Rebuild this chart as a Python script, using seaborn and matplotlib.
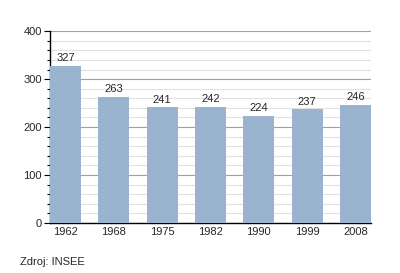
import matplotlib
matplotlib.use("Agg")
import matplotlib.pyplot as plt
import seaborn as sns
import pandas as pd
from matplotlib.ticker import MultipleLocator

years = ["1962", "1968", "1975", "1982", "1990", "1999", "2008"]
population = [327, 263, 241, 242, 224, 237, 246]
source_text = "Zdroj: INSEE"

sns.set_style("white")
plt.rcParams['font.family'] = ['Liberation Sans', 'DejaVu Sans']

df = pd.DataFrame({"year": years, "pop": population})

fig = plt.figure(figsize=(4.0, 2.73), dpi=100)
ax = fig.add_axes([0.125, 0.183, 0.8025, 0.703])

sns.barplot(data=df, x="year", y="pop", color="#9AB4CF", saturation=1,
            width=0.64, ax=ax, zorder=3, edgecolor="none")

ax.set_xlim(-0.32, len(years) - 0.68)
ax.set_ylim(0, 400)
ax.yaxis.set_major_locator(MultipleLocator(100))
ax.yaxis.set_minor_locator(MultipleLocator(20))
ax.grid(which="major", axis="y", color="#A0A0A0", linewidth=0.8, zorder=0)
ax.grid(which="minor", axis="y", color="#E2E2E2", linewidth=0.8, zorder=0)
ax.set_axisbelow(True)

for s in ["top", "right"]:
    ax.spines[s].set_visible(False)
for s in ["left", "bottom"]:
    ax.spines[s].set_color("black")
    ax.spines[s].set_linewidth(1.0)

ax.tick_params(axis="y", which="major", length=4, width=0.8, color="black",
               labelsize=8, left=True, pad=2)
ax.tick_params(axis="y", which="minor", length=2, width=0.8, color="black", left=True)
ax.tick_params(axis="x", length=0, labelsize=8, pad=3)
ax.set_xlabel("")
ax.set_ylabel("")

for i, v in enumerate(population):
    ax.annotate(str(v), (i, v), xytext=(0, 2), textcoords="offset points",
                ha="center", va="bottom", fontsize=8)

fig.text(0.05, 0.04, source_text, fontsize=8, ha="left", va="center")

fig.savefig("out.png", dpi=100)
